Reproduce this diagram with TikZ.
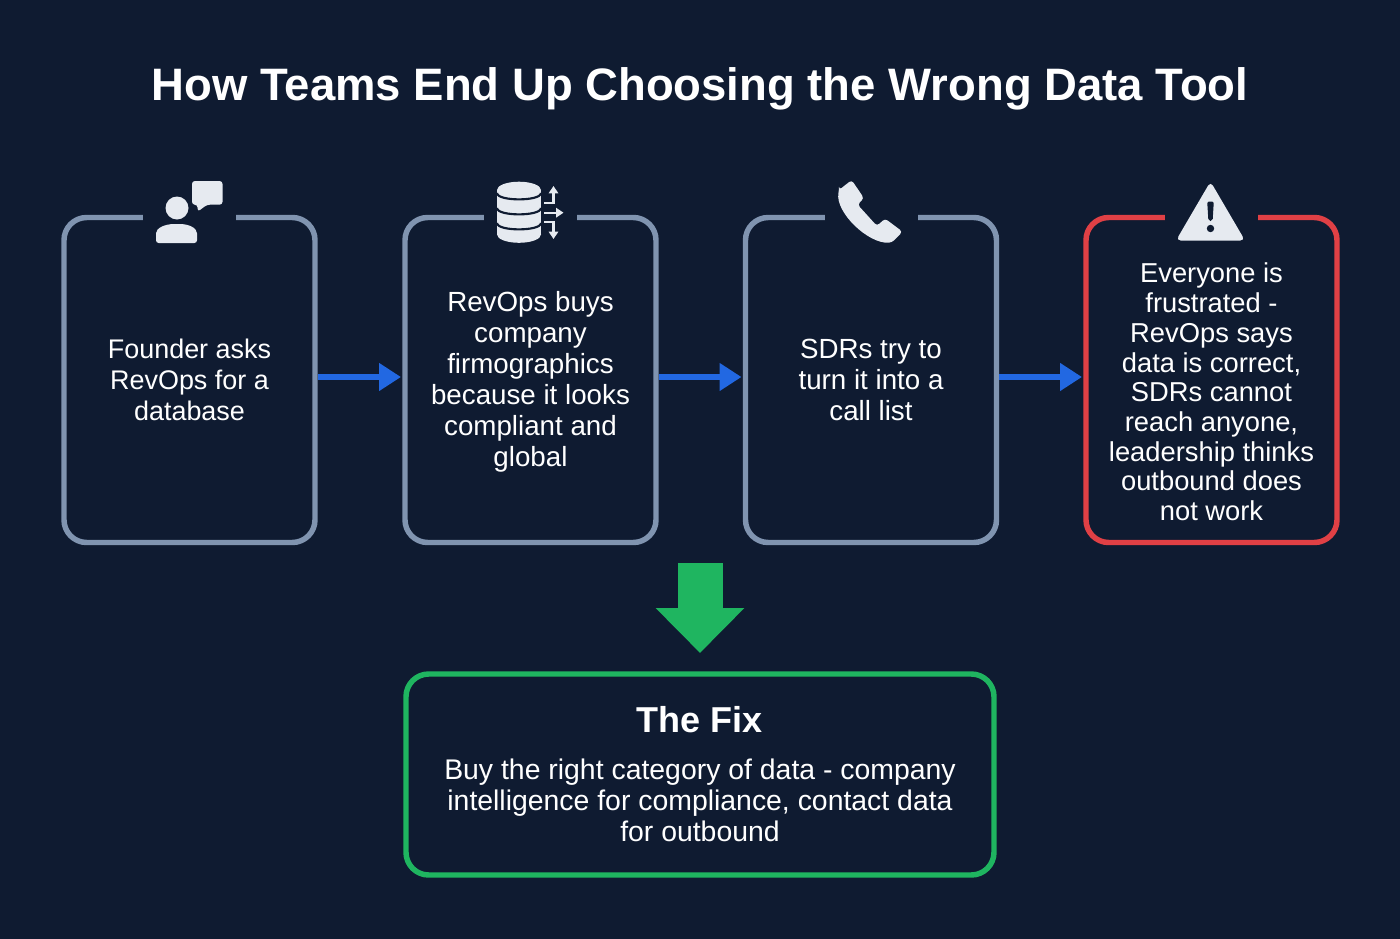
\documentclass[tikz,border=0pt]{standalone}
\usepackage{fontspec}
\setmainfont{Liberation Sans}
\usepackage{xcolor}
\usetikzlibrary{arrows.meta,calc,positioning}
\definecolor{pageBg}{HTML}{0F1B31}
\definecolor{slateLine}{HTML}{8094B0}
\definecolor{alertLine}{HTML}{E04045}
\definecolor{flowBlue}{HTML}{2268E2}
\definecolor{fixGreen}{HTML}{1FB560}
\definecolor{iconFill}{HTML}{E6EAF0}
\newcommand{\px}{0.75pt}
\tikzset{
  card/.style={draw=#1, line width=4.1pt, rounded corners=17pt, inner sep=0pt, outer sep=0pt},
  flowCard/.style={card=#1, minimum width=251*\px, minimum height=325*\px},
  iconGap/.style={fill=pageBg, inner sep=0pt, outer sep=0pt, minimum width=93*\px, minimum height=12*\px},
  cardText/.style={text=white, align=center, font=\fontsize{20.8}{23.2}\selectfont},
  flowArrow/.style={-{Triangle[length=16.5pt,width=20pt]}, draw=flowBlue, line width=4.4pt, shorten >=3pt, shorten <=2pt},
  fixArrow/.style={-{Triangle[length=33.75pt,width=64.5pt]}, draw=fixGreen, line width=33.75pt, shorten >=15.75pt},
  icon/.style={fill=iconFill, draw=none},
  ioArrow/.style={-{Triangle[length=5.5pt,width=7pt]}, draw=iconFill, line width=1.8pt}
}
\newcommand{\FlowCard}[5]{% #1=name, #2=x, #3=colour, #4=text options, #5=text
  \node[flowCard=#3] (#1) at (#2,380) {};
  \node[iconGap] (#1gap) at (#1.north) {};
  \node[cardText,#4] (#1text) at (#1.center) {#5};
}

\begin{document}
\begin{tikzpicture}[x=\px,y=-\px]
  \useasboundingbox[fill=pageBg] (0,0) rectangle (1400,939);
  \node[text=white, font=\fontsize{34.1}{40}\selectfont\bfseries] (title) at (700,89) {How Teams End Up Choosing the Wrong Data Tool};

  % Cards
  \FlowCard{founder}{189.5}{slateLine}{font=\fontsize{20.2}{23.2}\selectfont}{Founder asks\\RevOps for a\\database}
  \FlowCard{revops}{530.5}{slateLine}{yshift=-1.6pt}{RevOps buys\\company\\firmographics\\because it looks\\compliant and\\global}
  \FlowCard{sdrs}{871}{slateLine}{}{SDRs try to\\turn it into a\\call list}
  \FlowCard{everyone}{1211.5}{alertLine}{yshift=-9pt, font=\fontsize{20.5}{22.3}\selectfont}{Everyone is\\frustrated -\\RevOps says\\data is correct,\\SDRs cannot\\reach anyone,\\leadership thinks\\outbound does\\not work}

  % Flow
  \draw[flowArrow] ([yshift=2.25pt]founder.east) -- ([yshift=2.25pt]revops.west);
  \draw[flowArrow] ([yshift=2.25pt]revops.east) -- ([yshift=2.25pt]sdrs.west);
  \draw[flowArrow] ([yshift=2.25pt]sdrs.east) -- ([yshift=2.25pt]everyone.west);

  % The fix
  \node[card=fixGreen, minimum width=588*\px, minimum height=201*\px] (fix) at (700,774.5) {};
  \node[text=white, font=\fontsize{27}{30}\selectfont\bfseries] (fixTitle) at (700,720) {The Fix};
  \node[cardText, font=\fontsize{21.3}{23.2}\selectfont] (fixText) at (700,800) {Buy the right category of data - company\\intelligence for compliance, contact data\\for outbound};
  \coordinate (fixFrom) at (700,563);
  \draw[fixArrow] (fixFrom) -- (fix.north);

  % Person with speech bubble
  \fill[icon] (177,208) circle (11.5);
  \fill[icon, rounded corners=2pt] (156,243) -- (156,236) .. controls (156,228) and (165,224) .. (177,224) .. controls (189,224) and (197,228) .. (197,236) -- (197,243) -- cycle;
  \fill[icon, rounded corners=2.2pt] (192,181) -- (222.5,181) -- (222.5,204.7) -- (207,204.7) -- (197.7,211.7) -- (197.5,204.7) -- (192,204.7) -- cycle;

  % Database with three outputs
  \fill[icon] (519,190) ellipse[x radius=22, y radius=8.3];
  \fill[icon] (519,234.5) ellipse[x radius=22, y radius=8.3];
  \fill[icon] (497,190) rectangle (541,234.5);
  \foreach \yy in {193,208,223}{
    \draw[pageBg, line width=1.6pt] (497,\yy) .. controls (497,\yy+8.5) and (541,\yy+8.5) .. (541,\yy);
  }
  \draw[ioArrow] (544,203) -- (553.5,203) -- (553.5,186);
  \draw[ioArrow] (544,212.7) -- (563.5,212.7);
  \draw[ioArrow] (544,221.7) -- (553.5,221.7) -- (553.5,239);

  % Phone handset
  \fill[icon, rounded corners=2.4pt] (839,190) -- (851.7,180) -- (864,198.3) -- (857.5,204.5) -- (877,226) -- (885,218.5) -- (902.5,231.7) -- (892,242.5) .. controls (868,244) and (835,212) .. (839,190) -- cycle;

  % Warning sign
  \fill[icon, rounded corners=3.5pt] (1210.5,181.5) -- (1245,240.5) -- (1176,240.5) -- cycle;
  \fill[pageBg, rounded corners=1.5pt] (1207.2,201.5) -- (1213.8,201.5) -- (1212.6,221) -- (1208.4,221) -- cycle;
  \fill[pageBg] (1210.5,228.5) circle (3.7);
\end{tikzpicture}
\end{document}
